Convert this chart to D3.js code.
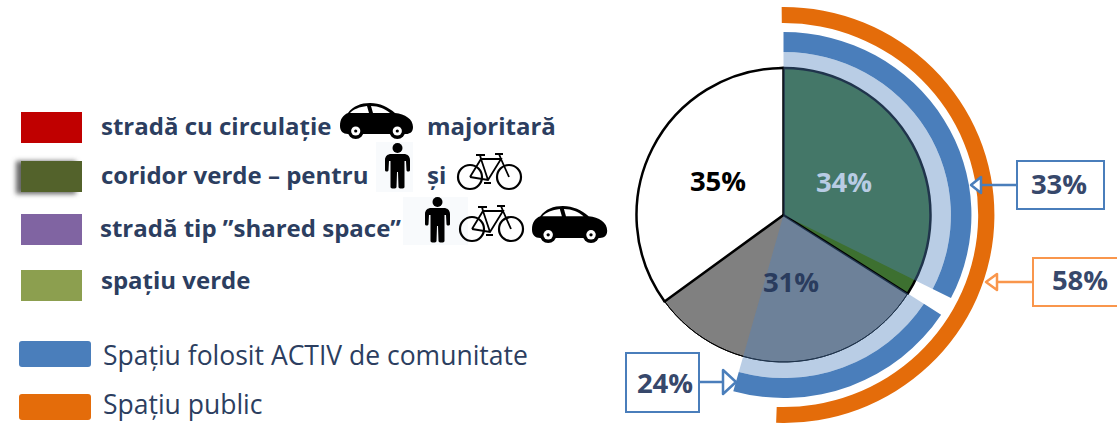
<!DOCTYPE html>
<html>
<head>
<meta charset="utf-8">
<title>Spațiu public</title>
<script src="https://cdn.jsdelivr.net/npm/d3@7"></script>
<style>
  html, body { margin: 0; padding: 0; background: #fff; overflow: hidden; }
  text { font-family: "Open Sans", sans-serif; }
</style>
</head>
<body>
<svg id="chart" width="1117" height="423"></svg>
<script>
// --- Data ---
const sliceNames = ["coridor verde", "stradă tip shared space", "stradă cu circulație"];
const sliceValues = [34, 31, 35];
const sliceLabels = ["34%", "31%", "35%"];

// arcs, degrees clockwise from 12 o'clock
const activeStart = [0, 123];
const activeEnd = [117, 195.5];
const publicStart = [-0.5];
const publicEnd = [182];

const calloutLabels = ["33%", "58%", "24%"];

const legendLabels = ["stradă cu circulație", "coridor verde – pentru", "stradă tip ”shared space”", "spațiu verde"];
const legendExtra = ["Spațiu folosit ACTIV de comunitate", "Spațiu public"];

// --- Config ---
const navy = "#2c3e60", blue = "#4a7ebb", orange = "#e46c0a", peach = "#f9964c";
const sliceColors = ["#3d7030", "#808080", "#ffffff"];
const sliceTextColors = ["#b8cce4", "#2a3c5e", "#000000"];
const cx = 783.5, cy = 215, r = 147;

const svg = d3.select("#chart");
const deg = d3.scaleLinear().domain([0, 360]).range([0, 2 * Math.PI]);

const defs = svg.append("defs");
defs.append("filter").attr("id", "soft").attr("x", "-30%").attr("y", "-40%").attr("width", "160%").attr("height", "180%")
    .append("feGaussianBlur").attr("stdDeviation", 2.6);

// --- Pie ---
const pie = d3.pie().sort(null).value(d => d)(sliceValues);
const arc = d3.arc().innerRadius(0).outerRadius(r);
const edge = d3.arc().innerRadius(r).outerRadius(r);

const g = svg.append("g").attr("transform", `translate(${cx},${cy})`);

g.selectAll(".slice").data(pie).enter().append("path").attr("class", "slice")
    .attr("d", arc).attr("fill", (d, i) => sliceColors[i]);

// radial edges and rim, rim is thinner under the grey slice
g.selectAll(".rim").data(pie).enter().append("path").attr("class", "rim")
    .attr("d", edge).attr("fill", "none").attr("stroke", "#000")
    .attr("stroke-width", (d, i) => i === 1 ? 1 : 2.5);
g.selectAll(".spoke").data(pie).enter().append("line").attr("class", "spoke")
    .attr("x2", d => r * Math.sin(d.startAngle))
    .attr("y2", d => -r * Math.cos(d.startAngle))
    .attr("stroke", "#000").attr("stroke-width", 2.5).attr("stroke-linecap", "round");

// --- Rings ---
const activeArcs = activeStart.map((s, i) => ({ startAngle: deg(s), endAngle: deg(activeEnd[i]) }));
const ring = g.append("g").attr("transform", "scale(1.027,1)");
ring.selectAll(".veil").data(activeArcs).enter().append("path").attr("class", "veil")
    .attr("d", d3.arc().innerRadius(0).outerRadius(163))
    .attr("fill", "#4f81bd").attr("fill-opacity", 0.4);
ring.selectAll(".active").data(activeArcs).enter().append("path").attr("class", "active")
    .attr("d", d3.arc().innerRadius(163).outerRadius(183))
    .attr("fill", blue);

const publicArcs = publicStart.map((s, i) => ({ startAngle: deg(s), endAngle: deg(publicEnd[i]) }));
g.append("g").attr("transform", "scale(1.014,1)")
    .selectAll(".public").data(publicArcs).enter().append("path").attr("class", "public")
    .attr("d", d3.arc().innerRadius(192).outerRadius(208))
    .attr("fill", orange);

// --- Slice labels ---
const sliceLabelPos = [[844, 192], [791, 292], [718, 191]];
svg.selectAll(".slice-label").data(sliceLabels).enter().append("text").attr("class", "slice-label")
    .attr("x", (d, i) => sliceLabelPos[i][0]).attr("y", (d, i) => sliceLabelPos[i][1])
    .attr("text-anchor", "middle").attr("font-size", 27.5).attr("font-weight", 700)
    .attr("fill", (d, i) => sliceTextColors[i]).text(d => d);

// --- Callouts ---
function drawCallout(label, color, box, textX, textY, tip, base, halfH) {
    const pointsLeft = box[0] > tip[0];
    svg.append("rect").attr("x", box[0]).attr("y", box[1]).attr("width", box[2]).attr("height", box[3])
        .attr("fill", "#fff").attr("stroke", color).attr("stroke-width", 2);
    svg.append("line").attr("x1", pointsLeft ? box[0] : box[0] + box[2]).attr("y1", tip[1]).attr("x2", base).attr("y2", tip[1])
        .attr("stroke", color).attr("stroke-width", 2.5);
    svg.append("path").attr("d", `M${tip[0]},${tip[1]}L${base},${tip[1] - halfH}L${base},${tip[1] + halfH}Z`)
        .attr("fill", "#fff").attr("stroke", color).attr("stroke-width", 2.5).attr("stroke-linejoin", "round");
    svg.append("text").attr("x", textX).attr("y", textY).attr("text-anchor", "middle")
        .attr("font-size", 27.5).attr("font-weight", 700).attr("fill", "#37486b").text(label);
}
drawCallout(calloutLabels[0], blue, [1017, 161, 87, 48], 1059, 194, [971, 185], 981, 8);
drawCallout(calloutLabels[1], peach, [1033, 258, 100, 48], 1080, 290, [986, 282], 997, 8);
drawCallout(calloutLabels[2], blue, [626, 353, 73, 59], 665, 393, [736, 382], 723, 12);

// --- Legend ---
const swatchColors = ["#c00000", "#53622b", "#8064a2", "#8c9f4f"];
const swatchY = [112, 161, 214, 270];
const legendY = [135, 184, 237, 289];
svg.append("rect").attr("x", 16).attr("y", 161).attr("width", 60).attr("height", 33)
    .attr("fill", "#666").attr("filter", "url(#soft)");
svg.selectAll(".swatch").data(swatchColors).enter().append("rect").attr("class", "swatch")
    .attr("x", 21).attr("y", (d, i) => swatchY[i]).attr("width", 61).attr("height", 31).attr("fill", d => d);
svg.selectAll(".legend").data(legendLabels).enter().append("text").attr("class", "legend")
    .attr("x", (d, i) => i === 2 ? 100 : 101).attr("y", (d, i) => legendY[i]).attr("font-size", 24).attr("font-weight", 700)
    .attr("fill", navy).text(d => d);
svg.append("text").attr("x", 427).attr("y", 135).attr("font-size", 24).attr("font-weight", 700).attr("fill", navy).text("majoritară");
svg.append("text").attr("x", 427).attr("y", 184).attr("font-size", 24).attr("font-weight", 700).attr("fill", navy).text("și");

const extraColors = [blue, orange], extraRectY = [341, 394], extraTextY = [365, 414];
svg.selectAll(".extra-swatch").data(extraColors).enter().append("rect").attr("class", "extra-swatch")
    .attr("x", 19).attr("y", (d, i) => extraRectY[i]).attr("width", 72).attr("height", 26).attr("rx", 3)
    .attr("fill", d => d);
svg.selectAll(".extra").data(legendExtra).enter().append("text").attr("class", "extra")
    .attr("x", 103).attr("y", (d, i) => extraTextY[i]).attr("font-size", 26.5).attr("fill", navy).text(d => d);

// --- Icons ---
function drawCar(x, y, k) {
    const c = svg.append("g").attr("transform", `translate(${x},${y}) scale(${k})`);
    c.append("path").attr("d", "M0,23C0,16 3,12 8,10C13,3 21,0 30,0C40,0 48,4 55,10C65,11 73,16 73,24C73,29 70,31 66,31L8,31C3,31 0,28 0,23Z");
    c.append("path").attr("fill", "#fff").attr("d", "M10,10C14,6 19,4 27,3L29,10Z");
    c.append("path").attr("fill", "#fff").attr("d", "M31,3C39,3 45,6 50,10L33,10Z");
    [15.7, 57.3].forEach(w => {
        c.append("circle").attr("cx", w).attr("cy", 28).attr("r", 8);
        c.append("circle").attr("cx", w).attr("cy", 28).attr("r", 4.6).attr("fill", "#fff");
        c.append("circle").attr("cx", w).attr("cy", 28).attr("r", 1.6);
    });
}
function drawPerson(x, y, k) {
    const p = svg.append("g").attr("transform", `translate(${x},${y}) scale(${k})`);
    p.append("circle").attr("cx", 12.5).attr("cy", 5).attr("r", 5);
    p.append("path").attr("d", "M6,11L19,11C22,11 25,13 25,17L25,27C25,29 21.5,29 21.5,27L21,18L19.5,18L19.5,44C19.5,46 13.5,46 13.5,44L13,29L12,29L11.5,44C11.5,46 5.5,46 5.5,44L5.5,18L4,18L3.5,27C3.5,29 0,29 0,27L0,17C0,13 3,11 6,11Z");
}
function drawBike(x, y, k) {
    const b = svg.append("g").attr("transform", `translate(${x},${y}) scale(${k})`)
        .attr("fill", "none").attr("stroke", "#000");
    b.append("circle").attr("cx", 13).attr("cy", 24).attr("r", 12).attr("stroke-width", 2.2);
    b.append("circle").attr("cx", 52).attr("cy", 24).attr("r", 12).attr("stroke-width", 2.2);
    b.append("path").attr("stroke-width", 1.8).attr("d", "M13,24L24,6L44,6L31,27L13,24M24,6L31,27M44,6L52,24M44,6L42,1M38,1L46,1M19,2L28,2M24,6L23,2M27,30L34,30");
}
drawCar(340, 103, 1);
svg.append("rect").attr("x", 376).attr("y", 142).attr("width", 37).attr("height", 50).attr("fill", "#f8fafc");
drawPerson(385, 143, 1);
drawBike(457, 153, 1);
svg.append("rect").attr("x", 403).attr("y", 197).attr("width", 65).attr("height", 48).attr("fill", "#f8fafc");
drawPerson(425, 197, 1);
drawBike(459, 205, 1);
drawCar(532, 206, 1.03);
</script>
</body>
</html>
